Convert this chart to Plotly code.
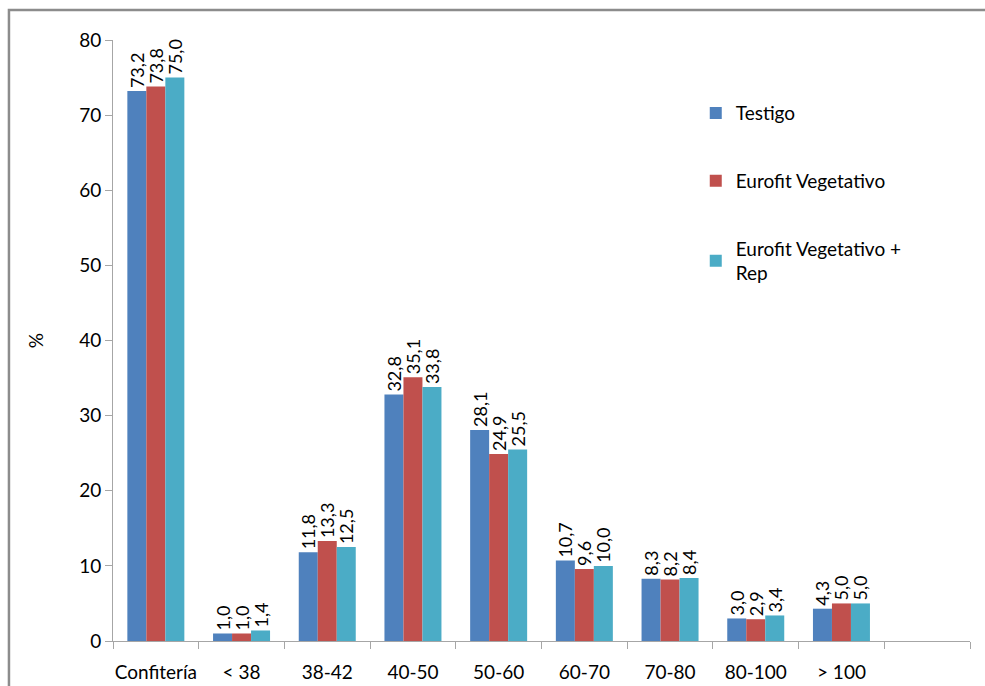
import plotly.graph_objects as go

# Size classes and percentages per treatment
categories = ["Confitería", "< 38", "38-42", "40-50", "50-60", "60-70", "70-80", "80-100", "> 100"]
axis_categories = categories + [" "]

testigo = [73.2, 1.0, 11.8, 32.8, 28.1, 10.7, 8.3, 3.0, 4.3]
eurofit_veg = [73.8, 1.0, 13.3, 35.1, 24.9, 9.6, 8.2, 2.9, 5.0]
eurofit_veg_rep = [75.0, 1.4, 12.5, 33.8, 25.5, 10.0, 8.4, 3.4, 5.0]

series = [
    ("Testigo", testigo, "#4F81BD"),
    ("Eurofit Vegetativo", eurofit_veg, "#C0504D"),
    ("Eurofit Vegetativo +<br>Rep", eurofit_veg_rep, "#4BACC6"),
]

FONT = "Lato, 'Open Sans', sans-serif"

fig = go.Figure()
for i, (name, vals, color) in enumerate(series):
    fig.add_trace(go.Bar(
        x=categories,
        y=vals,
        name=name,
        legendgroup=f"g{i}",
        marker=dict(color=color, line=dict(width=0)),
        texttemplate="%{y:.1f}",
        textposition="outside",
        textangle=-90,
        constraintext="none",
        cliponaxis=False,
        textfont=dict(family=FONT, size=18, color="#000000"),
    ))

fig.update_layout(
    width=985,
    height=686,
    margin=dict(l=113, r=15, t=40, b=45),
    paper_bgcolor="white",
    plot_bgcolor="white",
    separators=",.",
    barmode="group",
    bargap=0.335,
    bargroupgap=0,
    font=dict(family=FONT, size=19, color="#000000"),
    showlegend=True,
    legend=dict(
        x=0.68,
        y=0.91,
        xanchor="left",
        yanchor="top",
        font=dict(family=FONT, size=19, color="#000000"),
        tracegroupgap=40,
        itemwidth=30,
        bgcolor="rgba(0,0,0,0)",
    ),
    xaxis=dict(
        type="category",
        categoryorder="array",
        categoryarray=axis_categories,
        range=[-0.5, len(axis_categories) - 0.5],
        tickson="boundaries",
        ticks="outside",
        ticklen=7,
        tickcolor="#a6a6a6",
        showline=True,
        linecolor="#a6a6a6",
        linewidth=1,
        showgrid=False,
        tickangle=0,
        automargin=False,
        tickfont=dict(family=FONT, size=19),
        ticklabelstandoff=14,
    ),
    yaxis=dict(
        range=[0, 80],
        dtick=10,
        ticks="outside",
        ticklen=7,
        tickcolor="#a6a6a6",
        showline=True,
        linecolor="#a6a6a6",
        linewidth=1,
        showgrid=False,
        zeroline=False,
        automargin=False,
        tickfont=dict(family=FONT, size=19),
        title=dict(text="%", font=dict(family=FONT, size=19), standoff=30),
    ),
    shapes=[
        dict(
            type="rect", xref="paper", yref="paper",
            x0=-0.1214, x1=1.2, y0=-0.2, y1=1.0499,
            line=dict(color="#8c8c8c", width=2.5),
            fillcolor="rgba(0,0,0,0)",
            layer="below",
        )
    ],
)

fig.write_html("out.html")
